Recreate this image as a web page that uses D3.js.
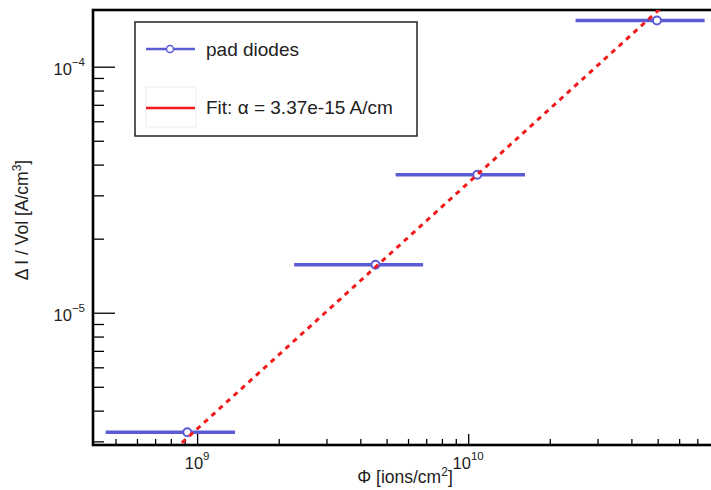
<!DOCTYPE html>
<html>
<head>
<meta charset="utf-8">
<script src="https://cdn.jsdelivr.net/npm/d3@7"></script>
<style>
  body { margin: 0; background: #fff; }
  svg { display: block; font-family: "Liberation Sans", Arial, sans-serif; }
</style>
</head>
<body>
<svg id="chart" width="711" height="490"></svg>
<script>
// measured points (fluence, current density), x errors are +-50%
var fluence = [9.2e8, 4.55e9, 1.08e10, 4.97e10];
var fluenceErr = [4.6e8, 2.27e9, 5.4e9, 2.48e10];
var current = [3.27e-6, 1.567e-5, 3.64e-5, 1.54e-4];
var fitAlpha = 3.37e-15;
var xDomain = [4.13e8, 8.0e10];
var yDomain = [2.90e-6, 1.70e-4];
var xTickExps = [9, 10];
var yTickExps = [-5, -4];

var svg = d3.select("#chart");
var padL = 93, padR = 713, padT = 10, padB = 445;
var blue = "#5b5bd6", red = "#f01a1a";

var x = d3.scaleLog().domain(xDomain).range([padL, padR]);
var y = d3.scaleLog().domain(yDomain).range([padB, padT]);

svg.append("clipPath").attr("id", "clip")
  .append("rect").attr("x", padL).attr("y", padT)
  .attr("width", padR - padL).attr("height", padB - padT);

// ticks (inward), majors longer
var xMajor = xTickExps.map(function(e) { return Math.pow(10, e); });
var yMajor = yTickExps.map(function(e) { return Math.pow(10, e); });
var xMinor = x.ticks().filter(function(v) { return xMajor.indexOf(v) < 0; });
var yMinor = y.ticks().filter(function(v) { return yMajor.indexOf(v) < 0; });

function styleAxis(g) {
  g.select(".domain").remove();
  g.selectAll("line").attr("stroke", "#000").attr("stroke-width", 1.3);
}
svg.append("g").attr("transform", "translate(0," + padB + ")")
  .call(d3.axisBottom(x).tickValues(xMinor).tickSize(-6).tickFormat("")).call(styleAxis);
svg.append("g").attr("transform", "translate(0," + padB + ")")
  .call(d3.axisBottom(x).tickValues(xMajor).tickSize(-11).tickFormat("")).call(styleAxis);
svg.append("g").attr("transform", "translate(" + padL + ",0)")
  .call(d3.axisLeft(y).tickValues(yMinor).tickSize(-11).tickFormat("")).call(styleAxis);
svg.append("g").attr("transform", "translate(" + padL + ",0)")
  .call(d3.axisLeft(y).tickValues(yMajor).tickSize(-22).tickFormat("")).call(styleAxis);

// frame
svg.append("rect").attr("x", padL).attr("y", padT)
  .attr("width", padR - padL).attr("height", padB - padT)
  .attr("fill", "none").attr("stroke", "#000").attr("stroke-width", 2.6);

// tick labels with superscripts
xTickExps.forEach(function(e) {
  var t = svg.append("text").attr("x", x(Math.pow(10, e))).attr("y", 469)
    .attr("text-anchor", "middle").attr("font-size", 16.5).attr("fill", "#222");
  t.append("tspan").text("10");
  t.append("tspan").attr("font-size", 11.5).attr("dy", -9).text(e);
});
yTickExps.forEach(function(e) {
  var t = svg.append("text").attr("x", 85).attr("y", y(Math.pow(10, e)) + 8.5)
    .attr("text-anchor", "end").attr("font-size", 16.5).attr("fill", "#222");
  t.append("tspan").text("10");
  t.append("tspan").attr("font-size", 11.5).attr("dy", -9).text("\u2212" + (-e));
});

// axis titles
var xt = svg.append("text").attr("x", 405).attr("y", 483)
  .attr("text-anchor", "middle").attr("font-size", 17.5).attr("fill", "#222");
xt.append("tspan").text("\u03a6 [ions/cm");
xt.append("tspan").attr("font-size", 12).attr("dy", -7).text("2");
xt.append("tspan").attr("dy", 7).text("]");

var yt = svg.append("text").attr("transform", "translate(28,220) rotate(-90)")
  .attr("text-anchor", "middle").attr("font-size", 17.5).attr("fill", "#222");
yt.append("tspan").text("\u0394 I / Vol [A/cm");
yt.append("tspan").attr("font-size", 12).attr("dy", -7).text("3");
yt.append("tspan").attr("dy", 7).text("]");

// data
var plot = svg.append("g").attr("clip-path", "url(#clip)");
var pts = fluence.map(function(f, i) {
  return {x: f, ex: fluenceErr[i], y: current[i]};
});
plot.selectAll("line.err").data(pts).enter().append("line")
  .attr("x1", function(d) { return x(d.x - d.ex); })
  .attr("x2", function(d) { return x(d.x + d.ex); })
  .attr("y1", function(d) { return y(d.y); })
  .attr("y2", function(d) { return y(d.y); })
  .attr("stroke", blue).attr("stroke-width", 3.5);
plot.selectAll("circle").data(pts).enter().append("circle")
  .attr("cx", function(d) { return x(d.x); })
  .attr("cy", function(d) { return y(d.y); })
  .attr("r", 4).attr("fill", "#fff").attr("stroke", blue).attr("stroke-width", 2);

// fit: I/V = alpha * phi
var fitLine = d3.line()
  .x(function(d) { return x(d); })
  .y(function(d) { return y(fitAlpha * d); });
plot.append("path").datum(xDomain).attr("d", fitLine)
  .attr("fill", "none").attr("stroke", red).attr("stroke-width", 3)
  .attr("stroke-dasharray", "5,5");

// legend
var lg = svg.append("g");
lg.append("rect").attr("x", 135).attr("y", 22).attr("width", 282).attr("height", 114)
  .attr("fill", "#fff").attr("stroke", "#222").attr("stroke-width", 1.5);
lg.append("line").attr("x1", 146).attr("x2", 195).attr("y1", 49).attr("y2", 49)
  .attr("stroke", blue).attr("stroke-width", 2.5);
lg.append("circle").attr("cx", 170).attr("cy", 49).attr("r", 3.5)
  .attr("fill", "#fff").attr("stroke", blue).attr("stroke-width", 1.5);
lg.append("text").attr("x", 206).attr("y", 56).attr("font-size", 19).attr("fill", "#222")
  .text("pad diodes");
lg.append("rect").attr("x", 146).attr("y", 87).attr("width", 50).attr("height", 40)
  .attr("fill", "#fff").attr("stroke", "#ececec").attr("stroke-width", 1);
lg.append("line").attr("x1", 146).attr("x2", 195).attr("y1", 108).attr("y2", 108)
  .attr("stroke", red).attr("stroke-width", 2.5);
lg.append("text").attr("x", 206).attr("y", 114).attr("font-size", 19).attr("fill", "#222")
  .text("Fit: \u03b1 = 3.37e-15 A/cm");
</script>
</body>
</html>
